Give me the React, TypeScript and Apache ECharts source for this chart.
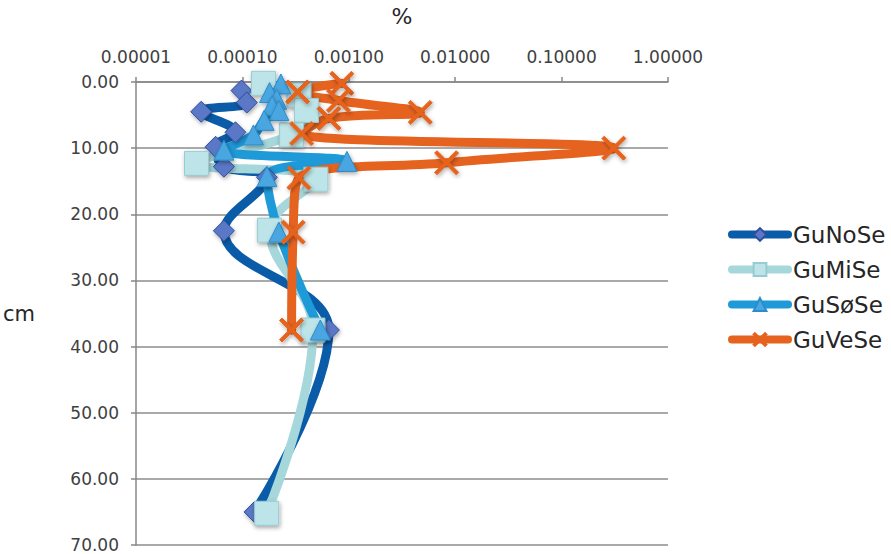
import React, { useEffect, useRef } from "react";
import * as echarts from "echarts";

// x values in %, depth in cm
const xTicks = [0.00001, 0.0001, 0.001, 0.01, 0.1, 1];
const depthTicks = [0, 10, 20, 30, 40, 50, 60, 70];

const guNoSeX = [9.8e-5, 1.1e-4, 4.1e-5, 8.6e-5, 5.6e-5, 6.7e-5, 1.7e-4, 6.7e-5, 6.5e-4, 1.3e-4];
const guNoSeD = [1.3, 3.1, 4.5, 7.6, 9.8, 12.8, 14.4, 22.5, 37.5, 65];

const guMiSeX = [1.58e-4, 3.4e-4, 4.0e-4, 2.9e-4, 3.7e-5, 4.9e-4, 1.8e-4, 4.6e-4, 1.69e-4];
const guMiSeD = [0.2, 2, 4.3, 8, 12.3, 14.7, 22.4, 37.5, 65.2];

const guSoSeX = [2.3e-4, 1.8e-4, 2.1e-4, 1.9e-4, 2.2e-4, 1.6e-4, 1.27e-4, 6.7e-5, 9.6e-4, 1.7e-4, 2.2e-4, 5.4e-4];
const guSoSeD = [0.3, 1.6, 2.6, 3.6, 4.3, 5.8, 8, 10.3, 12, 14.3, 22.7, 37.5];

const guVeSeX = [8.6e-4, 3.3e-4, 8.0e-4, 4.7e-3, 6.5e-4, 3.6e-4, 0.31, 8.3e-3, 3.4e-4, 3.0e-4, 2.9e-4];
const guVeSeD = [0.2, 1.5, 2.8, 4.6, 5.5, 7.8, 10, 12.2, 14.5, 22.7, 37.5];

const seriesNames = ["GuNoSe", "GuMiSe", "GuSøSe", "GuVeSe"];

const xMark =
  "path://M2,0 L10,8 L18,0 L20,2 L12,10 L20,18 L18,20 L10,12 L2,20 L0,18 L8,10 L0,2 Z";

const pairs = (xs: number[], ds: number[]) => xs.map((x, i) => [x, ds[i]]);

export default function App() {
  const ref = useRef<HTMLDivElement>(null);
  useEffect(() => {
    if (!ref.current) return;
    const chart = echarts.init(ref.current, null, { renderer: "svg" });
    const shadow = {
      shadowBlur: 4,
      shadowColor: "rgba(0,0,0,0.35)",
      shadowOffsetX: 1,
      shadowOffsetY: 2,
    };
    const mk = (
      name: string,
      data: number[][],
      color: string,
      width: number,
      symbol: string,
      symbolSize: number,
      fill: string,
      border: string
    ) => ({
      name,
      type: "line",
      data,
      smooth: 0.4,
      symbol,
      symbolSize,
      showAllSymbol: true,
      clip: false,
      lineStyle: { color, width, cap: "round", join: "round" },
      itemStyle: { color: fill, borderColor: border, borderWidth: 1, ...shadow },
      emphasis: { disabled: true },
    });
    chart.setOption({
      animation: false,
      backgroundColor: "#ffffff",
      textStyle: { fontFamily: "DejaVu Sans" },
      grid: { left: 127, right: 223, top: 75, bottom: 9 },
      legend: {
        orient: "vertical",
        left: 723,
        top: 218,
        itemWidth: 56,
        itemHeight: 16,
        itemGap: 12,
        textStyle: { fontSize: 23, color: "#262626", lineHeight: 22 },
        lineStyle: { width: 8, cap: "round" },
        data: seriesNames,
      },
      xAxis: {
        type: "log",
        logBase: 10,
        position: "top",
        min: xTicks[0],
        max: xTicks[xTicks.length - 1],
        name: "%",
        nameLocation: "middle",
        nameGap: 55,
        nameTextStyle: { fontSize: 22, color: "#262626" },
        axisLine: { show: true, lineStyle: { color: "#878787", width: 1.5 } },
        axisTick: { show: true, length: 5, lineStyle: { color: "#878787", width: 1.5 } },
        axisLabel: {
          fontSize: 17,
          color: "#404040",
          margin: 17,
          formatter: (v: number) => v.toFixed(5),
        },
        splitLine: { show: false },
        minorTick: { show: false },
      },
      yAxis: {
        type: "value",
        inverse: true,
        min: depthTicks[0],
        max: depthTicks[depthTicks.length - 1],
        interval: 10,
        name: "cm",
        nameLocation: "middle",
        nameRotate: 0,
        nameGap: 101,
        nameTextStyle: { fontSize: 21, color: "#262626" },
        axisLine: { show: true, lineStyle: { color: "#878787", width: 1.5 } },
        axisTick: { show: true, length: 5, lineStyle: { color: "#878787", width: 1.5 } },
        axisLabel: {
          fontSize: 17,
          color: "#404040",
          margin: 17,
          formatter: (v: number) => v.toFixed(2),
        },
        splitLine: { show: true, lineStyle: { color: "#8c8c8c", width: 1.5 } },
      },
      series: [
        mk(seriesNames[0], pairs(guNoSeX, guNoSeD), "#0b5ca8", 9, "diamond", 21, "#5a78c6", "#2e4e9e"),
        mk(seriesNames[1], pairs(guMiSeX, guMiSeD), "#a6d7db", 9, "rect", 24, "#bde4e8", "#98ccd2"),
        mk(seriesNames[2], pairs(guSoSeX, guSoSeD), "#1e9ad8", 9, "triangle", 20, "#4aa6e0", "#2a8ccc"),
        mk(seriesNames[3], pairs(guVeSeX, guVeSeD), "#e6631f", 9, xMark, 24, "#e6631f", "#e6631f"),
      ],
    });
    return () => chart.dispose();
  }, []);
  return (
    <div
      ref={ref}
      style={{ position: "fixed", left: 0, top: 0, width: 891, height: 554, background: "#fff" }}
    />
  );
}
